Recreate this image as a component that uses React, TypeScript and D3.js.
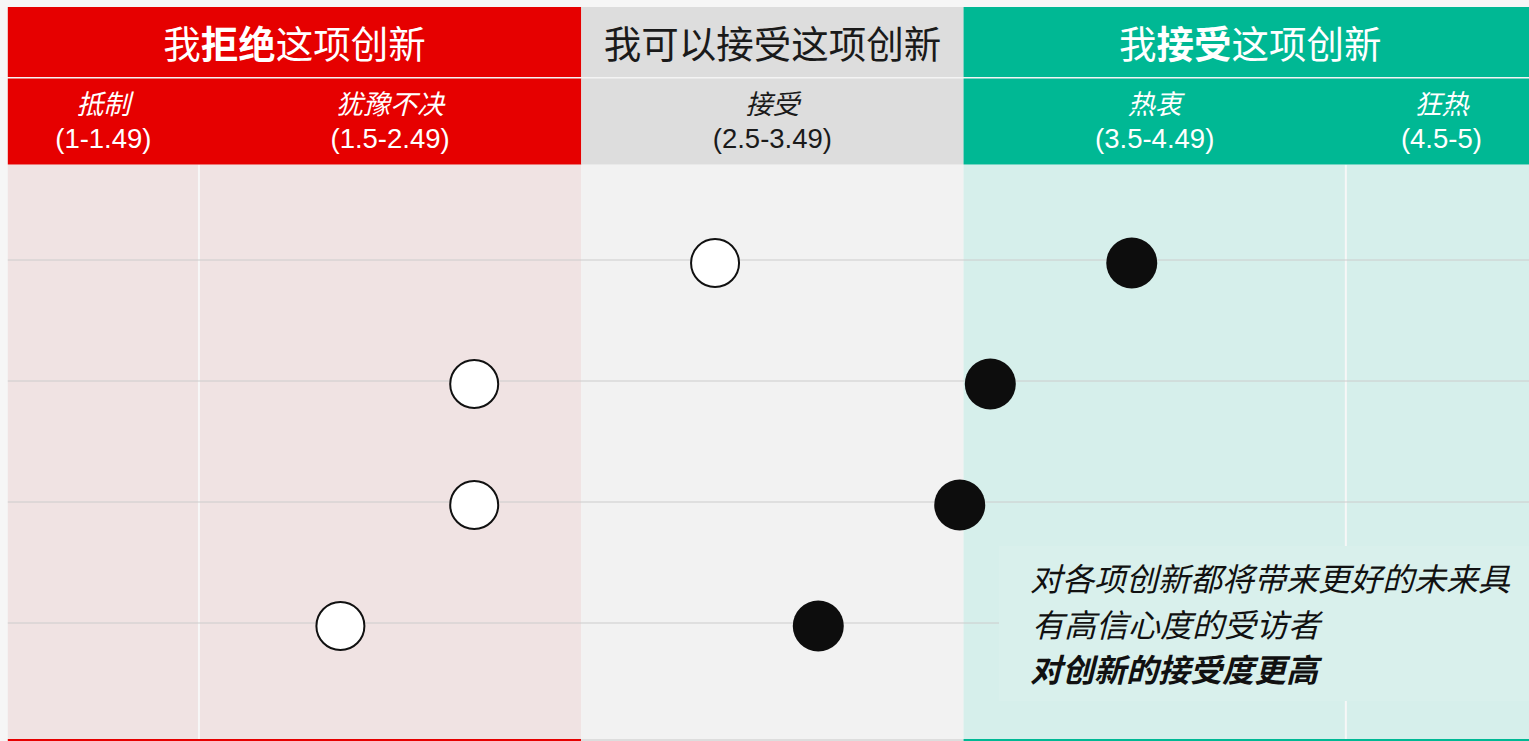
import React from "react";
import * as d3 from "d3";

const W = 1529;
const H = 741;

const groupTitles = [
  { pre: "我", bold: "拒绝", post: "这项创新", from: 1, to: 2.5, fill: "#e60000", color: "#ffffff" },
  { pre: "我可以接受这项创新", bold: "", post: "", from: 2.5, to: 3.5, fill: "#dddddd", color: "#1a1a1a" },
  { pre: "我", bold: "接受", post: "这项创新", from: 3.5, to: 5, fill: "#00b894", color: "#ffffff" },
];

const zoneLabels = ["抵制", "犹豫不决", "接受", "热衷", "狂热"];
const zoneRanges = ["(1-1.49)", "(1.5-2.49)", "(2.5-3.49)", "(3.5-4.49)", "(4.5-5)"];
const zoneFrom = [1, 1.5, 2.5, 3.5, 4.5];
const zoneTo = [1.5, 2.5, 3.5, 4.5, 5];
const zoneTextColor = ["#ffffff", "#ffffff", "#1a1a1a", "#ffffff", "#ffffff"];

const bodyFills = [
  { from: 1, to: 2.5, fill: "#f0e3e3", line: "#e60000" },
  { from: 2.5, to: 3.5, fill: "#f2f2f2", line: "#dddddd" },
  { from: 3.5, to: 5, fill: "#d6efeb", line: "#00b894" },
];
const dividers = [1.5, 4.5];

const rows = ["1", "2", "3", "4"];
const lowConfidence = [2.85, 2.22, 2.22, 1.87];
const highConfidence = [3.94, 3.57, 3.49, 3.12];

const noteLines = ["对各项创新都将带来更好的未来具", "有高信心度的受访者", "对创新的接受度更高"];

const cjk = "'Noto Sans CJK SC', 'Noto Sans', sans-serif";
const latin = "'Liberation Sans', Arial, sans-serif";

export default function App() {
  const x = d3.scaleLinear().domain([1, 5]).range([7.8, 1537]);
  const y = d3.scalePoint<string>().domain(rows).range([263, 626]);
  const top = 7;
  const h1 = 70;
  const sep = 1.5;
  const h2 = 86;
  const bodyTop = top + h1 + sep + h2;
  const clampR = (v: number) => Math.min(v, W);

  return (
    <div style={{ position: "fixed", left: 0, top: 0, width: W, height: H, background: "#f6f6f6" }}>
      <svg width={W} height={H} style={{ display: "block" }}>
        <rect x={0} y={0} width={W} height={H} fill="#f6f6f6" />
        {bodyFills.map((b, i) => (
          <g key={"b" + i}>
            <rect x={x(b.from)} y={bodyTop} width={clampR(x(b.to)) - x(b.from)} height={H - bodyTop} fill={b.fill} />
            <rect x={x(b.from)} y={H - 2} width={clampR(x(b.to)) - x(b.from)} height={2} fill={b.line} />
          </g>
        ))}
        {dividers.map((d, i) => (
          <line key={"d" + i} x1={x(d)} x2={x(d)} y1={bodyTop} y2={H - 2} stroke="#f7f7f7" strokeWidth={2} />
        ))}
        {rows.map((r) => (
          <line key={"l" + r} x1={x(1)} x2={W} y1={(y(r) as number) - 3} y2={(y(r) as number) - 3} stroke="#cccccc" strokeWidth={1} />
        ))}
        <rect x={999} y={546} width={W - 999} height={155} fill="#d9f0ec" />
        {noteLines.map((t, i) => (
          <text
            key={"n" + i}
            x={i === 1 ? 1032 : 1030}
            y={591 + i * 45.5}
            fontFamily={cjk}
            fontSize={32}
            fontStyle="italic"
            fontWeight={i === 2 ? 700 : 400}
            fill="#111111"
          >
            {t}
          </text>
        ))}
        {groupTitles.map((g, i) => {
          const x0 = x(g.from);
          const x1 = x(g.to);
          const cx = (x0 + Math.min(x1, W)) / 2 + (i === 2 ? 4 : 0);
          return (
            <g key={"g" + i}>
              <rect x={x0} y={top} width={clampR(x1) - x0} height={h1} fill={g.fill} />
              <text x={cx} y={top + 51} textAnchor="middle" fontFamily={cjk} fontSize={37.5} fill={g.color}>
                <tspan>{g.pre}</tspan>
                {g.bold ? <tspan fontWeight={700}>{g.bold}</tspan> : null}
                {g.post ? <tspan>{g.post}</tspan> : null}
              </text>
            </g>
          );
        })}
        <rect x={0} y={top + h1} width={W} height={sep} fill="#f4f4f4" />
        {groupTitles.map((g, i) => (
          <rect key={"h2" + i} x={x(g.from)} y={top + h1 + sep} width={clampR(x(g.to)) - x(g.from)} height={h2} fill={g.fill} />
        ))}
        {zoneLabels.map((z, i) => {
          const cx = (x(zoneFrom[i]) + x(zoneTo[i])) / 2;
          return (
            <g key={"z" + i}>
              <text x={cx} y={114} textAnchor="middle" fontFamily={cjk} fontSize={27} fontStyle="italic" fill={zoneTextColor[i]}>
                {z}
              </text>
              <text x={cx} y={148} textAnchor="middle" fontFamily={latin} fontSize={27.5} fill={zoneTextColor[i]}>
                {zoneRanges[i]}
              </text>
            </g>
          );
        })}
        {rows.map((r, i) => (
          <g key={"p" + r}>
            <circle cx={x(lowConfidence[i])} cy={y(r) as number} r={24} fill="#ffffff" stroke="#111111" strokeWidth={2} />
            <circle cx={x(highConfidence[i])} cy={y(r) as number} r={25.5} fill="#0d0d0d" />
          </g>
        ))}
      </svg>
    </div>
  );
}
